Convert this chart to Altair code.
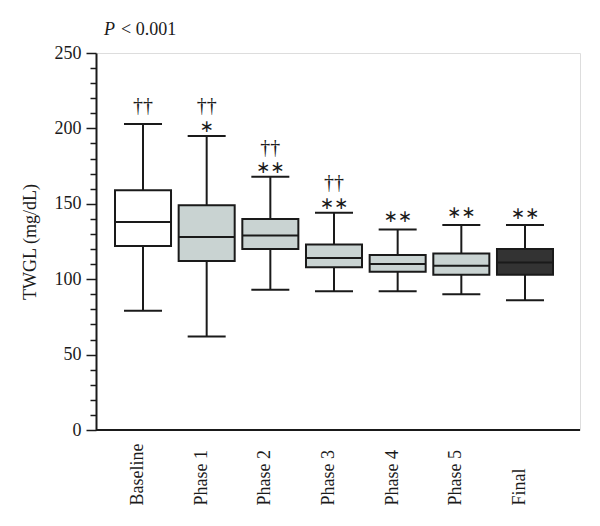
import altair as alt
import pandas as pd

categories = ["Baseline", "Phase 1", "Phase 2", "Phase 3", "Phase 4", "Phase 5", "Final"]
upper = [203, 195, 168, 144, 133, 136, 136]
q3 = [159, 149, 140, 123, 116, 117, 120]
median = [138, 128, 129, 114, 110, 109, 111]
q1 = [122, 112, 120, 108, 105, 103, 103]
lower = [79, 62, 93, 92, 92, 90, 86]
fills = ["#ffffff", "#c9d3d2", "#c9d3d2", "#c9d3d2", "#c9d3d2", "#c9d3d2", "#333333"]

dagger_cats = ["Baseline", "Phase 1", "Phase 2", "Phase 3"]
dagger_y = [215, 215, 187, 164]
star_cats = ["Phase 1", "Phase 2", "Phase 3", "Phase 4", "Phase 5", "Final"]
star_text = ["∗", "∗∗", "∗∗", "∗∗", "∗∗", "∗∗"]
star_y = [201, 174, 150, 141, 144, 143]
y_ticks = list(range(0, 251, 10))

df = pd.DataFrame({"cat": categories, "upper": upper, "q3": q3, "median": median,
                   "q1": q1, "lower": lower, "fill": fills})
dag = pd.DataFrame({"cat": dagger_cats, "y": dagger_y, "t": ["††"] * len(dagger_cats)})
stars = pd.DataFrame({"cat": star_cats, "y": star_y, "t": star_text})
ptitle = pd.DataFrame({"cat": ["Baseline"], "y": [265]})

INK = "#1a1a1a"
SERIF = "Liberation Serif"

xenc = alt.X("cat:N", sort=categories,
             scale=alt.Scale(range=[19, 457], paddingInner=0.12, paddingOuter=0),
             axis=alt.Axis(title=None, labelAngle=-90, labelAlign="left", labelBaseline="middle",
                           ticks=False, tickSize=0, domain=False, labelPadding=75,
                           labelOffset=-5, labelFont=SERIF, labelFontSize=18, labelColor=INK))
yscale = alt.Scale(domain=[0, 250], nice=False, zero=True)
yaxis = alt.Axis(title="TWGL (mg/dL)", values=y_ticks, labelOverlap=False,
                 labelExpr="datum.value % 50 === 0 ? datum.label : ''",
                 tickSize={"condition": {"test": "datum.value % 50 === 0", "value": 10}, "value": 6},
                 grid=False, domainColor=INK, domainWidth=2, tickColor=INK, tickWidth=1.5,
                 labelFont=SERIF, labelFontSize=18, labelColor=INK, labelPadding=5,
                 titleFont=SERIF, titleFontSize=18, titleFontWeight="normal", titleColor=INK,
                 titleX=-66, titleY=188.5, titleAngle=270, titleBaseline="middle", titleAlign="center")


def Y(field):
    return alt.Y(field, scale=yscale, axis=yaxis)


base = alt.Chart(df)
whisk = base.mark_rule(strokeWidth=2, color=INK).encode(
    x=xenc, y=Y("lower:Q"), y2="upper:Q")
box = base.mark_bar(stroke=INK, strokeWidth=2, opacity=1).encode(
    x=xenc, y=Y("q1:Q"), y2="q3:Q", fill=alt.Fill("fill:N", scale=None))
med = base.mark_tick(size=56, thickness=2, color=INK, opacity=1).encode(x=xenc, y=Y("median:Q"))
capu = base.mark_tick(size=38, thickness=2, color=INK, opacity=1).encode(x=xenc, y=Y("upper:Q"))
capl = base.mark_tick(size=38, thickness=2, color=INK, opacity=1).encode(x=xenc, y=Y("lower:Q"))

xaxis_line = alt.Chart(pd.DataFrame({"v": [0]})).mark_rule(strokeWidth=2, color=INK).encode(
    y=Y("v:Q"), x=alt.value(0), x2=alt.value({"expr": "width"}))

dtext = alt.Chart(dag).mark_text(font=SERIF, fontSize=20, color=INK, baseline="middle").encode(
    x=xenc, y=Y("y:Q"), text="t:N")
stext = alt.Chart(stars).mark_text(font="DejaVu Sans", fontSize=17, color=INK, baseline="middle").encode(
    x=xenc, y=Y("y:Q"), text="t:N")
pt1 = alt.Chart(ptitle).mark_text(font=SERIF, fontSize=18, fontStyle="italic", color=INK,
                                  align="left", baseline="middle", dx=-39, text="P").encode(
    x=xenc, y=Y("y:Q"))
pt2 = alt.Chart(ptitle).mark_text(font=SERIF, fontSize=18, color=INK,
                                  align="left", baseline="middle", dx=-22, text="< 0.001").encode(
    x=xenc, y=Y("y:Q"))

chart = alt.layer(whisk, box, med, capu, capl, xaxis_line, dtext, stext, pt1, pt2).properties(
    width=484, height=377,
    autosize=alt.AutoSizeParams(type="none"),
    padding={"left": 88, "top": 45, "right": 12, "bottom": 80},
).configure_view(stroke=None).configure(background="white")

chart.save("out.html", embed_options={"renderer": "svg", "actions": False})
